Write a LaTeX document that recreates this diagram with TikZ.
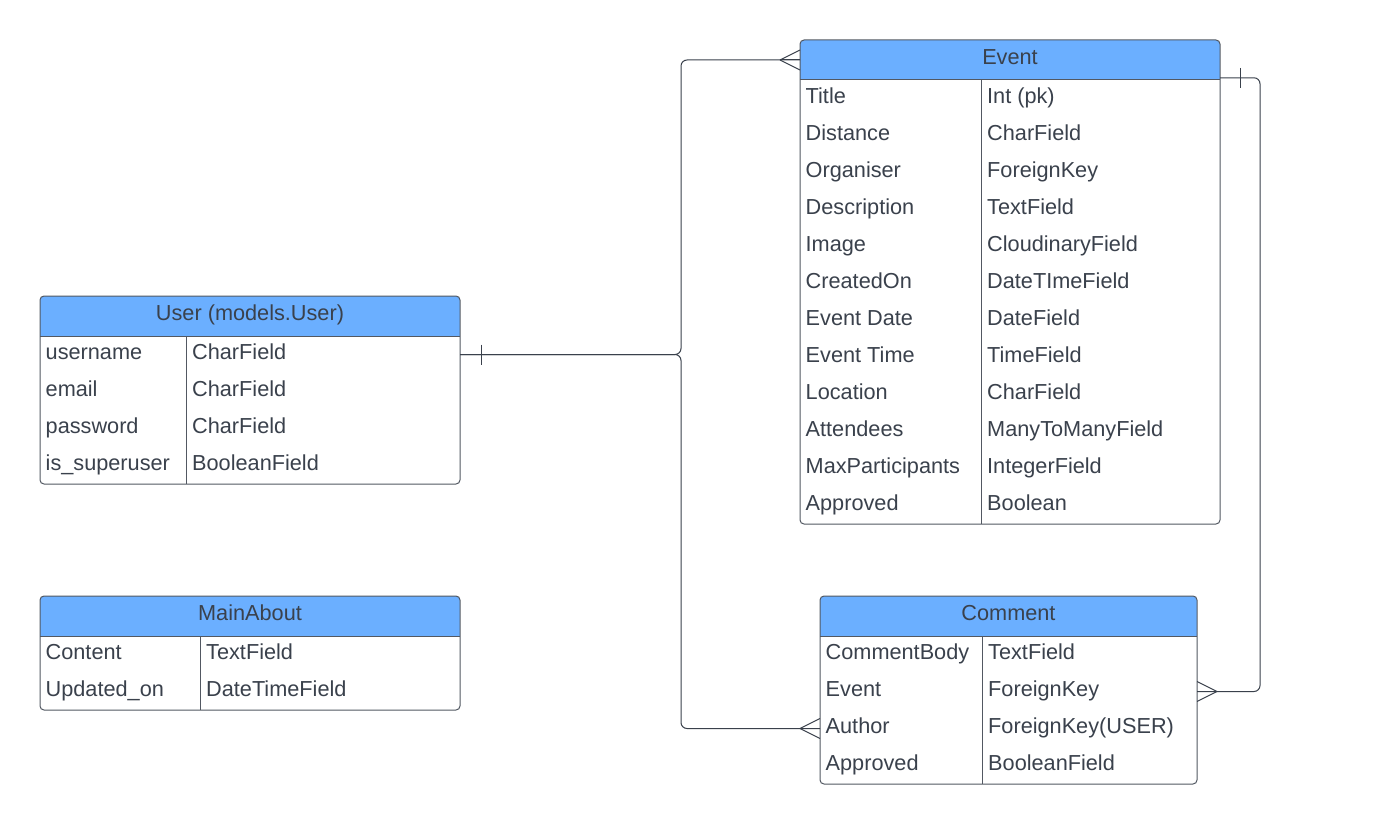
\documentclass[tikz,border=0pt]{standalone}
\usepackage{fontspec}
\setmainfont{Liberation Sans}
\usetikzlibrary{calc}
\definecolor{hdrBlue}{RGB}{107,175,255}
\definecolor{inkGray}{RGB}{58,65,76}
\definecolor{edgeGray}{RGB}{82,88,98}
\tikzset{
  tbl/.style={draw=edgeGray, line width=1pt, rounded corners=4pt, inner sep=0pt, outer sep=0pt},
  fld/.style={font=\fontsize{21.7}{26}\selectfont, text=inkGray, inner sep=0pt,
    text height=15.6pt, text depth=6pt, minimum height=37pt},
  rel/.style={draw=inkGray, line width=1pt, rounded corners=6pt},
  tip/.style={draw=inkGray, line width=1pt}
}
% #1 name, #2 x, #3 y, #4 width, #5 divider, #6 rows, #7 title, #8 fields
\newcommand{\ertable}[8]{%
  \begin{scope}
    \clip[rounded corners=4pt] (#2,#3) rectangle ++(#4,{40+37*#6});
    \fill[hdrBlue] (#2,#3) rectangle ++(#4,40);
  \end{scope}
  \draw[edgeGray, line width=1pt] ({#2},{#3+40}) -- ++(#4,0);
  \draw[edgeGray, line width=1pt] ({#2+#5},{#3+40}) -- ({#2+#5},{#3+40+37*#6});
  \node[tbl, minimum width=#4pt, minimum height={40pt+37pt*#6}, anchor=north west] (#1) at (#2,#3) {};
  \node[fld, minimum height=40pt] (#1-hd) at ({#2+#4/2},{#3+20}) {#7};
  \foreach \fa/\fb [count=\i] in {#8} {
    \node[fld, anchor=west] (#1-\i) at ({#2+5.5},{#3+40+37*\i-18.5}) {\fa};
    \node[fld, anchor=west] (#1-\i-t) at ({#2+#5+6},{#3+40+37*\i-18.5}) {\fb};
  }}
% crow's foot ending at #1, pointing #2 (1 = leftwards into entity, -1 = rightwards)
\newcommand{\crowfoot}[2]{%
  \draw[tip] ([xshift=-20pt*#2]#1) -- ([yshift=10pt]#1);
  \draw[tip] ([xshift=-20pt*#2]#1) -- (#1);
  \draw[tip] ([xshift=-20pt*#2]#1) -- ([yshift=-10pt]#1);}

\begin{document}
\begin{tikzpicture}[x=1pt, y=-1pt]
  \useasboundingbox[fill=white] (0,0) rectangle (1384,824);

  \ertable{evt}{800}{40}{420}{181}{12}{Event}{Title/Int (pk), Distance/CharField,
    Organiser/ForeignKey, Description/TextField, Image/CloudinaryField,
    CreatedOn/DateTImeField, Event Date/DateField, Event Time/TimeField,
    Location/CharField, Attendees/ManyToManyField, MaxParticipants/IntegerField,
    Approved/Boolean}
  \ertable{usr}{40}{296}{420}{146}{4}{User (models.User)}{username/CharField,
    email/CharField, password/CharField, is\_superuser/BooleanField}
  \ertable{abt}{40}{596}{420}{160}{2}{MainAbout}{Content/TextField,
    Updated\_on/DateTimeField}
  \ertable{cmt}{820}{596}{377}{162}{4}{Comment}{CommentBody/TextField,
    Event/ForeignKey, Author/ForeignKey(USER), Approved/BooleanField}

  % relations
  \coordinate (usrEnd) at (usr.east |- usr-1);
  \path (usrEnd) ++(221,0) coordinate (jn);
  \coordinate (evtIn) at (evt.west |- evt-hd);
  \coordinate (cmtIn) at (cmt.west |- cmt-3);
  \coordinate (evtOut) at ([yshift=2pt]evt.east |- evt-1.north);
  \coordinate (cmtOut) at (cmt.east |- cmt-2);

  \draw[rel] (usrEnd) -- (jn) |- (evtIn);
  \draw[rel] (usrEnd) -- (jn) |- (cmtIn);
  \draw[rel] (evtOut) -- ++(40,0) |- (cmtOut);

  \draw[tip] ([xshift=21pt, yshift=10pt]usrEnd) -- ([xshift=21pt, yshift=-10pt]usrEnd);
  \draw[tip] ([xshift=20pt, yshift=10pt]evtOut) -- ([xshift=20pt, yshift=-10pt]evtOut);
  \crowfoot{evtIn}{1}
  \crowfoot{cmtIn}{1}
  \crowfoot{cmtOut}{-1}
\end{tikzpicture}
\end{document}
